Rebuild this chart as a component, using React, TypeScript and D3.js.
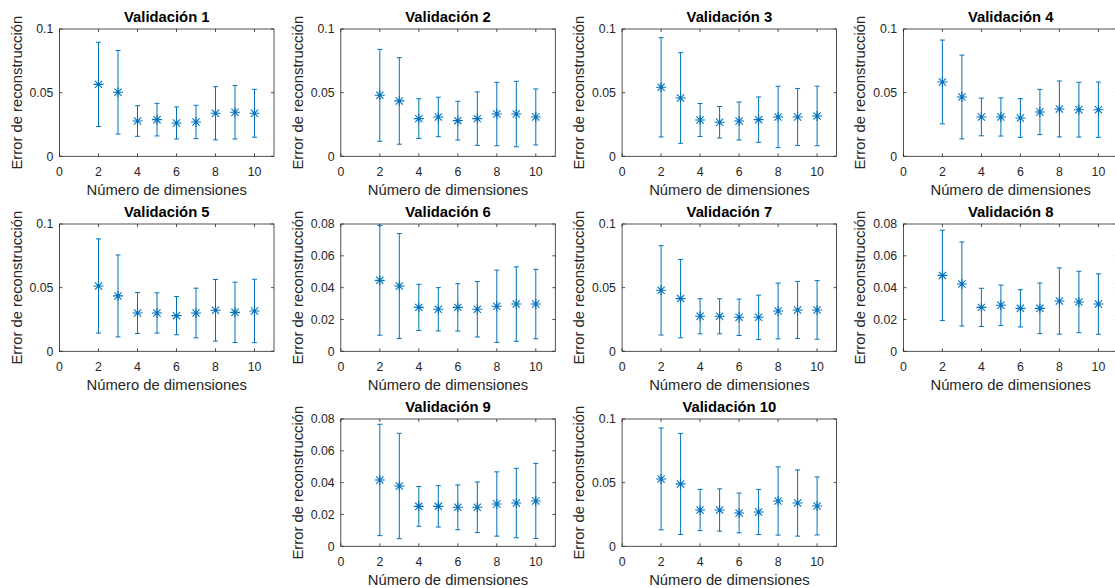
import React, { useEffect, useRef } from "react";
import * as d3 from "d3";

// number of dimensions on the x axis
const dims = [2, 3, 4, 5, 6, 7, 8, 9, 10];
const xTicks = [0, 2, 4, 6, 8, 10];
const ticksTenth = [0, 0.05, 0.1];
const ticksEighth = [0, 0.02, 0.04, 0.06, 0.08];

const titles = [
  "Validación 1", "Validación 2", "Validación 3", "Validación 4", "Validación 5",
  "Validación 6", "Validación 7", "Validación 8", "Validación 9", "Validación 10",
];

// mean reconstruction error per validation fold
const means1 = [0.0565, 0.0503, 0.0277, 0.0288, 0.0262, 0.027, 0.0338, 0.0346, 0.0338];
const means2 = [0.0479, 0.0435, 0.0296, 0.0309, 0.028, 0.0296, 0.0332, 0.0332, 0.0309];
const means3 = [0.0542, 0.0458, 0.0285, 0.0267, 0.0277, 0.0288, 0.0309, 0.0309, 0.0317];
const means4 = [0.0584, 0.0466, 0.0309, 0.0309, 0.0301, 0.0348, 0.0372, 0.0366, 0.0366];
const means5 = [0.0513, 0.0435, 0.0301, 0.0301, 0.028, 0.0301, 0.0322, 0.0306, 0.0317];
const means6 = [0.0446, 0.041, 0.0276, 0.0264, 0.0276, 0.0264, 0.0283, 0.0297, 0.0297];
const means7 = [0.0479, 0.0414, 0.0275, 0.0275, 0.0267, 0.0267, 0.0317, 0.0325, 0.0325];
const means8 = [0.0477, 0.0423, 0.0276, 0.0289, 0.027, 0.027, 0.0316, 0.031, 0.0297];
const means9 = [0.0417, 0.0379, 0.0251, 0.0251, 0.0245, 0.0245, 0.0266, 0.0272, 0.0285];
const means10 = [0.0529, 0.049, 0.0285, 0.0285, 0.0262, 0.027, 0.0356, 0.034, 0.0317];

// half length of each error bar
const errs1 = [0.0331, 0.0328, 0.012, 0.0128, 0.0126, 0.0131, 0.0209, 0.021, 0.0188];
const errs2 = [0.0361, 0.034, 0.0156, 0.0155, 0.0152, 0.021, 0.0249, 0.0257, 0.022];
const errs3 = [0.039, 0.0356, 0.013, 0.0124, 0.0149, 0.0178, 0.0241, 0.0224, 0.0234];
const errs4 = [0.0329, 0.0329, 0.0148, 0.015, 0.0152, 0.0178, 0.022, 0.0215, 0.0217];
const errs5 = [0.037, 0.0322, 0.0161, 0.0158, 0.015, 0.0195, 0.0242, 0.0237, 0.0249];
const errs6 = [0.0345, 0.033, 0.0145, 0.0136, 0.0149, 0.0174, 0.0227, 0.0234, 0.0218];
const errs7 = [0.0351, 0.0308, 0.0138, 0.0138, 0.0143, 0.0174, 0.0219, 0.0224, 0.023];
const errs8 = [0.0284, 0.0264, 0.012, 0.0127, 0.0117, 0.0159, 0.0208, 0.0193, 0.019];
const errs9 = [0.035, 0.0331, 0.0125, 0.013, 0.0141, 0.0159, 0.0202, 0.0218, 0.0236];
const errs10 = [0.04, 0.0397, 0.0162, 0.0166, 0.0156, 0.0177, 0.0268, 0.026, 0.0228];

const allMeans = [means1, means2, means3, means4, means5, means6, means7, means8, means9, means10];
const allErrs = [errs1, errs2, errs3, errs4, errs5, errs6, errs7, errs8, errs9, errs10];
const allTicks = [
  ticksTenth, ticksTenth, ticksTenth, ticksTenth, ticksTenth,
  ticksEighth, ticksTenth, ticksEighth, ticksEighth, ticksTenth,
];

// subplot slot (column, row) for each panel
const slots = [
  [0, 0], [1, 0], [2, 0], [3, 0],
  [0, 1], [1, 1], [2, 1], [3, 1],
  [1, 2], [2, 2],
];

const FONT = "'Liberation Sans', Arial, Helvetica, sans-serif";
const AXIS = "#262626";
const BLUE = "#0072BD";

const App = () => {
  const ref = useRef<SVGSVGElement>(null);

  useEffect(() => {
    const width = 1115;
    const height = 588;
    const pw = 214.5;
    const ph = 127.3;
    const colX = d3.scaleLinear().domain([0, 3]).range([59.5, 903.4]);
    const rowY = d3.scaleLinear().domain([0, 2]).range([29, 419]);

    const svg = d3.select(ref.current).attr("width", width).attr("height", height);
    svg.selectAll("*").remove();

    const fmt = (v: number) => String(+v.toFixed(4));

    allMeans.forEach((means, i) => {
      const [c, r] = slots[i];
      const ticks = allTicks[i];
      const yMax = ticks[ticks.length - 1];
      const x = d3.scaleLinear().domain([0, 11]).range([0, pw]);
      const y = d3.scaleLinear().domain([0, yMax]).range([ph, 0]);
      const errs = allErrs[i];

      const g = svg.append("g").attr("transform", `translate(${colX(c)},${rowY(r)})`);

      g.append("rect")
        .attr("width", pw)
        .attr("height", ph)
        .attr("fill", "white")
        .attr("stroke", AXIS)
        .attr("stroke-width", 0.8);

      // inward ticks on all four sides
      xTicks.forEach((t) => {
        g.append("line").attr("x1", x(t)).attr("x2", x(t)).attr("y1", ph).attr("y2", ph - 3)
          .attr("stroke", AXIS).attr("stroke-width", 0.8);
        g.append("line").attr("x1", x(t)).attr("x2", x(t)).attr("y1", 0).attr("y2", 3)
          .attr("stroke", AXIS).attr("stroke-width", 0.8);
        g.append("text")
          .attr("x", x(t)).attr("y", ph + 19.7)
          .attr("text-anchor", "middle")
          .attr("font-size", 12.3).attr("font-family", FONT).attr("fill", AXIS)
          .text(fmt(t));
      });
      ticks.forEach((t) => {
        g.append("line").attr("x1", 0).attr("x2", 3).attr("y1", y(t)).attr("y2", y(t))
          .attr("stroke", AXIS).attr("stroke-width", 0.8);
        g.append("line").attr("x1", pw).attr("x2", pw - 3).attr("y1", y(t)).attr("y2", y(t))
          .attr("stroke", AXIS).attr("stroke-width", 0.8);
        g.append("text")
          .attr("x", -6.2).attr("y", y(t)).attr("dy", "0.36em")
          .attr("text-anchor", "end")
          .attr("font-size", 12.3).attr("font-family", FONT).attr("fill", AXIS)
          .text(fmt(t));
      });

      g.append("text")
        .attr("x", pw / 2).attr("y", -7.3)
        .attr("text-anchor", "middle")
        .attr("font-size", 14.8).attr("font-weight", "bold").attr("font-family", FONT)
        .attr("fill", "#000")
        .text(titles[i]);

      g.append("text")
        .attr("x", pw / 2).attr("y", ph + 38.7)
        .attr("text-anchor", "middle")
        .attr("font-size", 14.8).attr("font-family", FONT).attr("fill", AXIS)
        .text("Número de dimensiones");

      g.append("text")
        .attr("transform", `translate(-38,${ph / 2}) rotate(-90)`)
        .attr("text-anchor", "middle")
        .attr("font-size", 14.8).attr("font-family", FONT).attr("fill", AXIS)
        .text("Error de reconstrucción");

      // error bars
      const bars = g.selectAll("g.bar").data(dims).enter().append("g").attr("class", "bar")
        .attr("stroke", BLUE).attr("stroke-width", 1).attr("fill", "none");
      bars.append("line")
        .attr("x1", (d) => x(d)).attr("x2", (d) => x(d))
        .attr("y1", (d, j) => y(means[j] - errs[j]))
        .attr("y2", (d, j) => y(means[j] + errs[j]));
      bars.append("line")
        .attr("x1", (d) => x(d) - 2.5).attr("x2", (d) => x(d) + 2.5)
        .attr("y1", (d, j) => y(means[j] + errs[j]))
        .attr("y2", (d, j) => y(means[j] + errs[j]));
      bars.append("line")
        .attr("x1", (d) => x(d) - 2.5).attr("x2", (d) => x(d) + 2.5)
        .attr("y1", (d, j) => y(means[j] - errs[j]))
        .attr("y2", (d, j) => y(means[j] - errs[j]));

      // asterisk markers
      const s = 5;
      const dgl = 3.6;
      bars.append("path")
        .attr("stroke-width", 1.1)
        .attr("d", (d, j) => {
          const cx = x(d);
          const cy = y(means[j]);
          return `M${cx - s},${cy}H${cx + s}M${cx},${cy - s}V${cy + s}` +
            `M${cx - dgl},${cy - dgl}L${cx + dgl},${cy + dgl}M${cx - dgl},${cy + dgl}L${cx + dgl},${cy - dgl}`;
        });
    });
  });

  return (
    <div style={{ position: "absolute", left: 0, top: 0 }}>
      <svg ref={ref} style={{ display: "block" }}></svg>
    </div>
  );
};

export default App;
